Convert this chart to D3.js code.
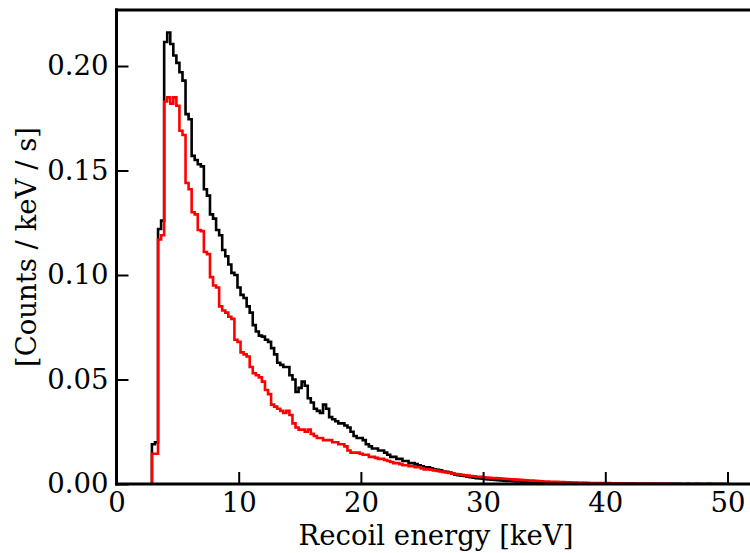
<!DOCTYPE html>
<html>
<head>
<meta charset="utf-8">
<script src="https://cdn.jsdelivr.net/npm/d3@7/dist/d3.min.js"></script>
<style>
  html, body { margin: 0; padding: 0; background: #fff; }
  svg { display: block; }
  text { font-family: "DejaVu Serif", serif; fill: #000; }
</style>
</head>
<body>
<svg id="chart" width="750" height="553"></svg>
<script>
// ---- data ----
const binStart = 2.9;      // keV, first bin edge
const binWidth = 0.25;     // keV
const xTicks = [0, 10, 20, 30, 40, 50];
const yTicks = [0.00, 0.05, 0.10, 0.15, 0.20];
const xDomain = [0, 52];
const yDomain = [0, 0.2268];

const blackCounts = [
  0.019, 0.020, 0.122, 0.126, 0.2115, 0.216, 0.2105, 0.205, 0.2015, 0.197,
  0.193, 0.177, 0.1745, 0.157, 0.155, 0.153, 0.152, 0.141, 0.138, 0.129,
  0.127, 0.1215, 0.119, 0.112, 0.109, 0.105, 0.101, 0.100, 0.094, 0.0905,
  0.089, 0.085, 0.082, 0.076, 0.073, 0.071, 0.0705, 0.069, 0.068, 0.065,
  0.062, 0.058, 0.057, 0.056, 0.056, 0.052, 0.050, 0.044, 0.046, 0.049,
  0.047, 0.041, 0.039, 0.036, 0.035, 0.034, 0.038, 0.036, 0.032, 0.031,
  0.030, 0.029, 0.029, 0.028, 0.027, 0.025, 0.023, 0.022, 0.022, 0.021,
  0.019, 0.018, 0.017, 0.017, 0.016, 0.016, 0.015, 0.014, 0.013, 0.013,
  0.012, 0.012, 0.011, 0.011, 0.010, 0.010, 0.0095, 0.009, 0.0085, 0.008,
  0.008, 0.0075, 0.007, 0.0068, 0.0065, 0.006, 0.0058, 0.0055, 0.005, 0.0045,
  0.0042, 0.004, 0.0038, 0.0035, 0.0033, 0.003, 0.0028, 0.0026, 0.0025, 0.0023,
  0.0022, 0.002, 0.0019, 0.0018, 0.0017, 0.0016, 0.0015, 0.0014, 0.0013, 0.0012,
  0.0012, 0.0011, 0.001, 0.001, 0.0009, 0.0009, 0.0008, 0.0008, 0.0007, 0.0007,
  0.0006, 0.0006, 0.0006, 0.0005, 0.0006, 0.0005, 0.0004, 0.0005, 0.0004, 0.0004,
  0.0003, 0.0004, 0.0003, 0.0003, 0.0002, 0.0003, 0.0002, 0.0002, 0.0003, 0.0002,
  0.0001, 0.0002, 0.0001, 0.0002, 0.0001, 0.0001, 0.0002, 0.0001, 0.0001, 0.0001,
  0.0001, 0.0001, 0, 0.0001, 0.0001, 0, 0.0001, 0, 0.0001, 0,
  0.0001, 0, 0.0001, 0, 0, 0.0001, 0, 0, 0.0001, 0,
  0, 0, 0.0001, 0, 0, 0, 0, 0, 0
];

const redCounts = [
  0.0145, 0.0145, 0.117, 0.119, 0.183, 0.185, 0.182, 0.185, 0.181, 0.169,
  0.167, 0.144, 0.141, 0.130, 0.129, 0.1215, 0.121, 0.111, 0.110, 0.099,
  0.095, 0.094, 0.085, 0.083, 0.082, 0.080, 0.079, 0.069, 0.068, 0.063,
  0.062, 0.061, 0.056, 0.053, 0.052, 0.051, 0.049, 0.045, 0.043, 0.038,
  0.037, 0.036, 0.035, 0.034, 0.035, 0.033, 0.029, 0.027, 0.026, 0.026,
  0.025, 0.026, 0.024, 0.023, 0.022, 0.022, 0.021, 0.021, 0.021, 0.020,
  0.020, 0.019, 0.019, 0.018, 0.016, 0.015, 0.015, 0.015, 0.0145, 0.014,
  0.014, 0.013, 0.013, 0.0125, 0.012, 0.012, 0.0115, 0.011, 0.0105, 0.010,
  0.010, 0.0095, 0.009, 0.009, 0.0085, 0.0085, 0.008, 0.008, 0.0075, 0.007,
  0.007, 0.0068, 0.0065, 0.0063, 0.006, 0.0058, 0.0055, 0.0053, 0.005, 0.0048,
  0.0046, 0.0044, 0.0042, 0.004, 0.0038, 0.0037, 0.0035, 0.0034, 0.0032, 0.0031,
  0.003, 0.0029, 0.0028, 0.0027, 0.0026, 0.0025, 0.0024, 0.0023, 0.0022, 0.0021,
  0.002, 0.0019, 0.0018, 0.0017, 0.0016, 0.0015, 0.0014, 0.0013, 0.0012, 0.0012,
  0.0011, 0.001, 0.001, 0.0009, 0.0009, 0.0008, 0.0008, 0.0007, 0.0007, 0.0006,
  0.0006, 0.0005, 0.0006, 0.0005, 0.0004, 0.0005, 0.0004, 0.0004, 0.0003, 0.0004,
  0.0003, 0.0003, 0.0002, 0.0003, 0.0002, 0.0002, 0.0001, 0.0002, 0.0001, 0.0001,
  0.0002, 0.0001, 0.0001, 0, 0.0001, 0, 0.0001, 0, 0, 0.0001,
  0, 0, 0, 0, 0, 0, 0, 0, 0, 0,
  0, 0, 0, 0, 0, 0, 0, 0, 0
];

const xLabel = "Recoil energy [keV]";
const yLabel = "[Counts / keV / s]";

// ---- layout ----
const mLeft = 116.5, mBottom = 484, mTop = 10;
const plotRight = mLeft + (xDomain[1] - xDomain[0]) * 12.22;
const fontPx = 27.5;

const svg = d3.select("#chart");
const x = d3.scaleLinear().domain(xDomain).range([mLeft, plotRight]);
const y = d3.scaleLinear().domain(yDomain).range([mBottom, mTop]);

svg.append("defs").append("clipPath").attr("id", "clip")
  .append("rect").attr("x", mLeft).attr("y", mTop)
  .attr("width", plotRight - mLeft).attr("height", mBottom - mTop);

function stepPoints(counts) {
  const pts = [[binStart, 0]];
  counts.forEach((v, i) => {
    const e0 = binStart + i * binWidth, e1 = e0 + binWidth;
    pts.push([e0, v], [e1, v]);
  });
  pts.push([binStart + counts.length * binWidth, 0]);
  return pts;
}

const line = d3.line().x(d => x(d[0])).y(d => y(d[1]));

const g = svg.append("g").attr("clip-path", "url(#clip)");
g.append("path").attr("d", line(stepPoints(blackCounts)))
  .attr("fill", "none").attr("stroke", "#000").attr("stroke-width", 2.6)
  .attr("stroke-linejoin", "miter");
g.append("path").attr("d", line(stepPoints(redCounts)))
  .attr("fill", "none").attr("stroke", "#ff0000").attr("stroke-width", 2.6)
  .attr("stroke-linejoin", "miter");

// axes
const xAxis = d3.axisBottom(x).tickValues(xTicks).tickSizeInner(-12).tickSizeOuter(0).tickPadding(7).tickFormat(d3.format("d"));
const yAxis = d3.axisLeft(y).tickValues(yTicks).tickSizeInner(-12).tickSizeOuter(0).tickPadding(8).tickFormat(d3.format(".2f"));

const gx = svg.append("g").attr("transform", `translate(0,${mBottom})`).call(xAxis);
const gy = svg.append("g").attr("transform", `translate(${mLeft},0)`).call(yAxis);
[gx, gy].forEach(a => {
  a.select(".domain").remove();
  a.selectAll(".tick line").attr("stroke", "#000").attr("stroke-width", 2);
  a.selectAll(".tick text").attr("font-size", fontPx).attr("font-family", "DejaVu Serif");
});
gx.selectAll(".tick text").attr("dy", "0.75em");

// spines
svg.append("line").attr("x1", mLeft).attr("x2", mLeft).attr("y1", mTop - 1.5).attr("y2", mBottom + 1.5)
  .attr("stroke", "#000").attr("stroke-width", 3);
svg.append("line").attr("x1", mLeft - 1.5).attr("x2", plotRight + 2).attr("y1", mBottom).attr("y2", mBottom)
  .attr("stroke", "#000").attr("stroke-width", 3);
svg.append("line").attr("x1", mLeft - 1.5).attr("x2", plotRight + 2).attr("y1", mTop).attr("y2", mTop)
  .attr("stroke", "#000").attr("stroke-width", 3);

// labels
svg.append("text").attr("x", 436).attr("y", 545).attr("text-anchor", "middle")
  .attr("font-size", fontPx).text(xLabel);
svg.append("text").attr("transform", `translate(36,${(mTop + mBottom) / 2}) rotate(-90)`)
  .attr("text-anchor", "middle").attr("font-size", fontPx).text(yLabel);
</script>
</body>
</html>
